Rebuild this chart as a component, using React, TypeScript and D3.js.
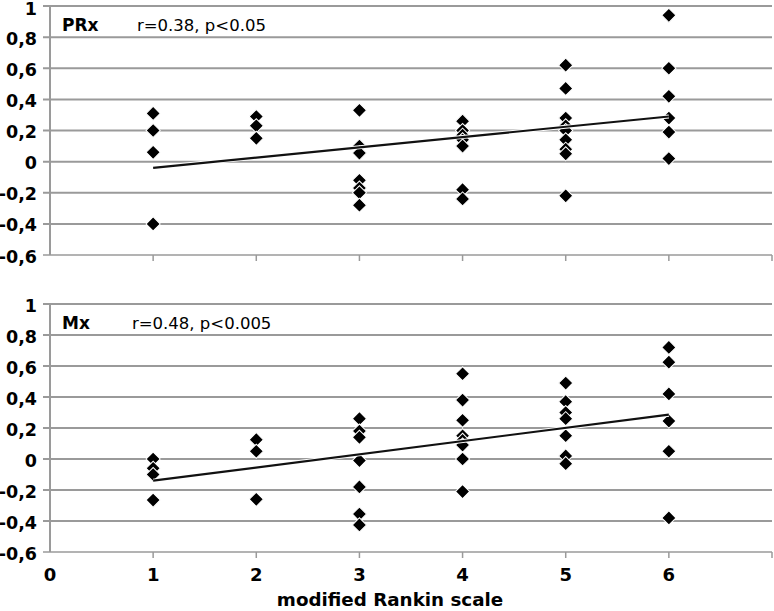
import React from "react";
import * as d3 from "d3";

const rankin = [1, 2, 3, 4, 5, 6];
const prxValues = [
  [0.31, 0.2, 0.06, -0.4],
  [0.29, 0.23, 0.15],
  [0.33, 0.1, 0.055, -0.12, -0.17, -0.2, -0.28],
  [0.26, 0.2, 0.17, 0.14, 0.1, -0.18, -0.24],
  [0.62, 0.47, 0.28, 0.23, 0.2, 0.14, 0.08, 0.05, -0.22],
  [0.94, 0.6, 0.42, 0.28, 0.19, 0.02],
];
const mxValues = [
  [0, -0.06, -0.1, -0.265],
  [0.125, 0.05, -0.26],
  [0.26, 0.18, 0.14, -0.01, -0.18, -0.355, -0.425],
  [0.55, 0.38, 0.25, 0.15, 0.12, 0.09, 0, -0.21],
  [0.49, 0.37, 0.3, 0.26, 0.15, 0.02, -0.03],
  [0.72, 0.625, 0.42, 0.245, 0.05, -0.38],
];
const prxTrend: [number, number][] = [[1, -0.04], [6, 0.29]];
const mxTrend: [number, number][] = [[1, -0.14], [6, 0.286]];
const yTicks = [1, 0.8, 0.6, 0.4, 0.2, 0, -0.2, -0.4, -0.6];
const xTicks = [0, 1, 2, 3, 4, 5, 6, 7];
const xTickLabels = ["0", "1", "2", "3", "4", "5", "6", ""];
const panels = [
  { name: "PRx", stat: "r=0.38, p<0.05", values: prxValues, trend: prxTrend },
  { name: "Mx", stat: "r=0.48, p<0.005", values: mxValues, trend: mxTrend },
];

const W = 774;
const H = 611;
const FONT = "DejaVu Sans, sans-serif";

const fmt = (v: number) => (v === 0 ? "0" : String(v).replace(".", ","));

export default function App() {
  const x = d3.scaleLinear().domain([0, 7]).range([50, 772]);
  const yRanges: [number, number][] = [
    [255, 6],
    [552, 304],
  ];
  const diamond = d3.symbol(d3.symbolSquare, 100)();
  const grid = "#9a9a9a";

  return (
    <svg
      width={W}
      height={H}
      style={{ position: "absolute", left: 0, top: 0, background: "#fff" }}
      fontFamily={FONT}
    >
      {panels.map((p, pi) => {
        const y = d3.scaleLinear().domain([-0.6, 1]).range(yRanges[pi]);
        const line = d3
          .line<[number, number]>()
          .x((d) => x(d[0]))
          .y((d) => y(d[1]));
        return (
          <g key={p.name}>
            {yTicks.map((t) => (
              <g key={t}>
                <line
                  x1={43}
                  x2={772}
                  y1={y(t)}
                  y2={y(t)}
                  stroke={grid}
                  strokeWidth={t === -0.6 ? 1.5 : 2}
                />
                <text
                  x={37}
                  y={y(t) + (pi === 0 && t === 1 ? 2.5 : 1.5)}
                  textAnchor="end"
                  dominantBaseline="central"
                  fontWeight="bold"
                  fontSize={17.5}
                  fill="#000"
                >
                  {fmt(t)}
                </text>
              </g>
            ))}
            <line x1={50} x2={50} y1={y(1)} y2={y(-0.6)} stroke={grid} strokeWidth={2} />
            {xTicks.map((t, i) => (
              <g key={t}>
                {t > 0 && (
                  <line
                    x1={x(t)}
                    x2={x(t)}
                    y1={y(-0.6)}
                    y2={y(-0.6) + 6}
                    stroke={grid}
                    strokeWidth={1.5}
                  />
                )}
                {pi === 1 && (
                  <text
                    x={x(t)}
                    y={y(-0.6) + 29}
                    textAnchor="middle"
                    fontWeight="bold"
                    fontSize={18}
                  >
                    {xTickLabels[i]}
                  </text>
                )}
              </g>
            ))}
            {p.values.map((vals, gi) =>
              vals.map((v, vi) => (
                <path
                  key={gi + "-" + vi}
                  d={diamond!}
                  transform={`translate(${x(rankin[gi])},${y(v)}) rotate(45)`}
                  fill="#000"
                  stroke="#fff"
                  strokeWidth={1}
                />
              ))
            )}
            <path d={line(p.trend)!} stroke="#fff" strokeWidth={4} fill="none" />
            <path d={line(p.trend)!} stroke="#111" strokeWidth={2.2} fill="none" />
            <text x={62} y={y(1) + 25} fontWeight="bold" fontSize={17}>
              {p.name}
            </text>
            <text x={pi === 0 ? 137 : 132} y={y(1) + 25} fontSize={16.5}>
              {p.stat}
            </text>
          </g>
        );
      })}
      <text x={390} y={606} textAnchor="middle" fontWeight="bold" fontSize={18.3}>
        modified Rankin scale
      </text>
    </svg>
  );
}
